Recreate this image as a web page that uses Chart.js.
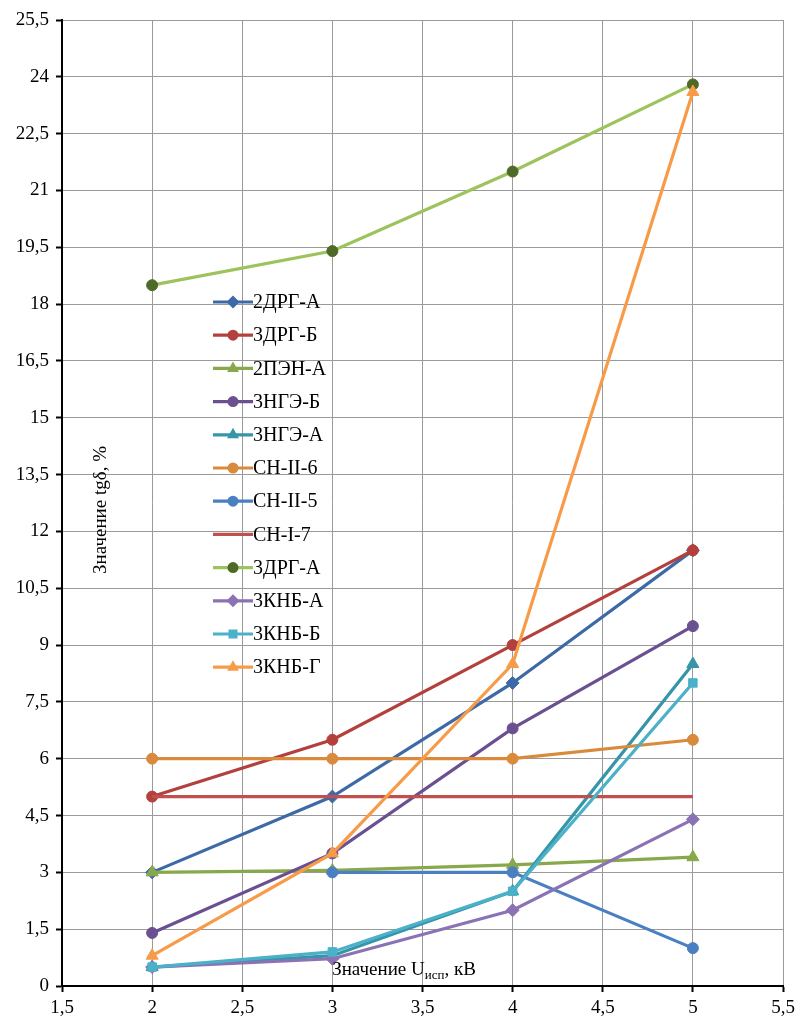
<!DOCTYPE html>
<html>
<head>
<meta charset="utf-8">
<style>
  html, body { margin: 0; padding: 0; background: #ffffff; }
  #wrap { width: 795px; height: 1024px; }
</style>
<script src="https://cdn.jsdelivr.net/npm/chart.js@4.4.1/dist/chart.umd.min.js"></script>
</head>
<body>
<div id="wrap"><canvas id="chart" width="795" height="1024"></canvas></div>
<script>
// Test voltage, kV
const voltages = [2, 3, 4, 5];

// Dielectric loss tangent tgδ, % for each sample
const series_2DRG_A  = [3.0, 5.0, 8.0, 11.5];
const series_3DRG_B  = [5.0, 6.5, 9.0, 11.5];
const series_2PEN_A  = [3.0, 3.05, 3.2, 3.4];
const series_3NGE_B  = [1.4, 3.5, 6.8, 9.5];
const series_3NGE_A  = [0.5, 0.8, 2.5, 8.5];
const series_SN_II_6 = [6.0, 6.0, 6.0, 6.5];
const series_SN_II_5 = [null, 3.0, 3.0, 1.0];
const series_SN_I_7  = [5.0, 5.0, 5.0, 5.0];
const series_3DRG_A  = [18.5, 19.4, 21.5, 23.8];
const series_3KNB_A  = [0.5, 0.72, 2.0, 4.4];
const series_3KNB_B  = [0.5, 0.9, 2.5, 8.0];
const series_3KNB_G  = [0.8, 3.5, 8.5, 23.6];

const seriesLabels = ['2ДРГ-А', '3ДРГ-Б', '2ПЭН-А', '3НГЭ-Б', '3НГЭ-А', 'СН-II-6',
                      'СН-II-5', 'СН-I-7', '3ДРГ-А', '3КНБ-А', '3КНБ-Б', '3КНБ-Г'];
const seriesValues = [series_2DRG_A, series_3DRG_B, series_2PEN_A, series_3NGE_B,
                      series_3NGE_A, series_SN_II_6, series_SN_II_5, series_SN_I_7,
                      series_3DRG_A, series_3KNB_A, series_3KNB_B, series_3KNB_G];

// Axis ranges and tick steps
const xMin = 1.5, xMax = 5.5, xStep = 0.5;
const yMin = 0, yMax = 25.5, yStep = 1.5;

// Line / marker styling per series
const styles = [
  { line: '#3d6aa6', fill: '#3d6aa6', shape: 'rectRot',  r: 6.5 },
  { line: '#b4403d', fill: '#b4403d', shape: 'circle',   r: 5.5 },
  { line: '#88a94b', fill: '#88a94b', shape: 'triangle', r: 7 },
  { line: '#6a5091', fill: '#6a5091', shape: 'circle',   r: 5.5 },
  { line: '#3795a8', fill: '#3795a8', shape: 'triangle', r: 7 },
  { line: '#d98a3c', fill: '#d98a3c', shape: 'circle',   r: 5.5 },
  { line: '#4a7fc1', fill: '#4a7fc1', shape: 'circle',   r: 5.5 },
  { line: '#c0504d', fill: '#c0504d', shape: false,      r: 0 },
  { line: '#9dc35c', fill: '#4f6a26', shape: 'circle',   r: 5.5 },
  { line: '#8a72b4', fill: '#8a72b4', shape: 'rectRot',  r: 6.5 },
  { line: '#4bb1c9', fill: '#4bb1c9', shape: 'rect',     r: 6 },
  { line: '#f79b48', fill: '#f79b48', shape: 'triangle', r: 7 }
];

const FONT = "'Liberation Serif', serif";
const fmt = v => String(Math.round(v * 10) / 10).replace('.', ',');

const datasets = seriesValues.map((vals, i) => ({
  label: seriesLabels[i],
  data: voltages.map((x, k) => ({ x: x, y: vals[k] })),
  borderColor: styles[i].line,
  backgroundColor: styles[i].fill,
  pointBackgroundColor: styles[i].fill,
  pointBorderColor: styles[i].fill,
  pointStyle: styles[i].shape,
  pointRadius: styles[i].r,
  pointBorderWidth: 1,
  borderWidth: 3.2,
  tension: 0,
  fill: false,
  spanGaps: false,
  order: seriesValues.length - i
}));

function drawMarker(ctx, shape, x, y, r, color) {
  if (!shape) return;
  ctx.save();
  ctx.fillStyle = color;
  ctx.beginPath();
  if (shape === 'circle') {
    ctx.arc(x, y, r, 0, Math.PI * 2);
  } else if (shape === 'rectRot') {
    ctx.moveTo(x, y - r); ctx.lineTo(x + r, y); ctx.lineTo(x, y + r); ctx.lineTo(x - r, y);
    ctx.closePath();
  } else if (shape === 'rect') {
    ctx.rect(x - r * 0.75, y - r * 0.75, r * 1.5, r * 1.5);
  } else if (shape === 'triangle') {
    const h = r * 1.5;
    ctx.moveTo(x, y - h * 0.66); ctx.lineTo(x + r * 0.85, y + h * 0.34); ctx.lineTo(x - r * 0.85, y + h * 0.34);
    ctx.closePath();
  }
  ctx.fill();
  ctx.restore();
}

// Legend inside the plot plus both axis titles
const overlay = {
  id: 'overlay',
  afterDraw(chart) {
    const ctx = chart.ctx;
    ctx.save();
    // legend
    const lx = 213, ly = 302, dy = 33.2;
    ctx.font = '20px ' + FONT;
    ctx.textBaseline = 'middle';
    ctx.textAlign = 'left';
    seriesLabels.forEach((lab, i) => {
      const y = ly + i * dy;
      ctx.strokeStyle = styles[i].line;
      ctx.lineWidth = 3.2;
      ctx.beginPath();
      ctx.moveTo(lx, y); ctx.lineTo(lx + 40, y);
      ctx.stroke();
      drawMarker(ctx, styles[i].shape, lx + 20, y, styles[i].r, styles[i].fill);
      ctx.fillStyle = '#000';
      ctx.fillText(lab, lx + 40, y + 1);
    });

    // y-axis title (rotated)
    ctx.save();
    ctx.translate(101, 510);
    ctx.rotate(-Math.PI / 2);
    ctx.font = '19px ' + FONT;
    ctx.textAlign = 'center';
    ctx.textBaseline = 'middle';
    ctx.fillStyle = '#000';
    ctx.fillText('Значение tgδ, %', 0, 0);
    ctx.restore();

    // x-axis title with subscript
    ctx.fillStyle = '#000';
    ctx.textBaseline = 'alphabetic';
    const parts = [
      { t: 'Значение U', f: '19px ' + FONT, dy: 0 },
      { t: 'исп', f: '13px ' + FONT, dy: 4 },
      { t: ', кВ', f: '19px ' + FONT, dy: 0 }
    ];
    let total = 0;
    parts.forEach(p => { ctx.font = p.f; total += ctx.measureText(p.t).width; });
    let x = 404 - total / 2;
    const base = 975;
    parts.forEach(p => {
      ctx.font = p.f;
      ctx.fillText(p.t, x, base + p.dy);
      x += ctx.measureText(p.t).width;
    });
    ctx.restore();
  }
};

new Chart(document.getElementById('chart'), {
  type: 'line',
  data: { datasets: datasets },
  options: {
    responsive: false,
    animation: false,
    layout: { padding: { top: 20, right: 12, left: 0, bottom: 0 } },
    plugins: { legend: { display: false }, tooltip: { enabled: false } },
    scales: {
      x: {
        type: 'linear',
        min: xMin, max: xMax,
        afterFit(scale) { scale.height = 38; scale.paddingLeft = 0; scale.paddingRight = 0; },
        ticks: {
          stepSize: xStep, autoSkip: false, maxRotation: 0, padding: 5,
          color: '#000', font: { family: FONT, size: 19 },
          callback: v => fmt(v)
        },
        grid: { color: '#9a9a9a', lineWidth: 1, tickLength: 6, tickColor: '#000', tickWidth: 2 },
        border: { color: '#000', width: 2 }
      },
      y: {
        type: 'linear',
        min: yMin, max: yMax,
        afterFit(scale) { scale.width = 62; scale.paddingTop = 0; scale.paddingBottom = 0; },
        ticks: {
          stepSize: yStep, autoSkip: false, padding: 7,
          color: '#000', font: { family: FONT, size: 19 },
          callback: v => fmt(v)
        },
        grid: { color: '#9a9a9a', lineWidth: 1, tickLength: 6, tickColor: '#000', tickWidth: 2 },
        border: { color: '#000', width: 2 }
      }
    }
  },
  plugins: [overlay]
});
</script>
</body>
</html>
